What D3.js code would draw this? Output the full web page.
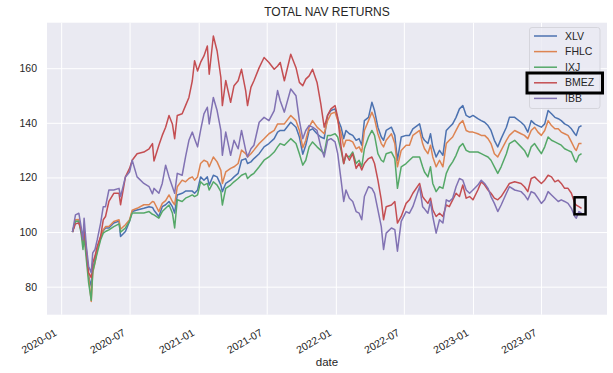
<html lang = "en">
  <head>
    <meta charset = "utf-8">
    <title>Total NAV returns</title>
    <script src="https://d3js.org/d3.v7.min.js"></script>

    <style>
      body { margin: 0; background: #fff; }
      text { font-family: "Liberation Sans", Arial, sans-serif; fill: #262626; }
      .tick text { font-size: 10.5px; }
      .label { font-size: 11.5px; }
      .title { font-size: 12px; }
      .grid line { stroke: #fff; stroke-width: 1; }
    </style>
  </head>

  <body>
    <script type = "text/javascript">

    // dates (roughly every 1-2 weeks plus the peaks/dips)
    var dates = ["2020-01-31","2020-02-08","2020-02-17","2020-02-23","2020-02-28","2020-03-02","2020-03-08","2020-03-14","2020-03-21","2020-03-25",
      "2020-03-31","2020-04-06","2020-04-15","2020-04-22","2020-04-28","2020-05-07","2020-05-20","2020-06-03","2020-06-07","2020-06-20",
      "2020-07-01","2020-07-08","2020-07-21","2020-08-08","2020-08-22","2020-08-31","2020-09-04","2020-09-17","2020-09-26","2020-10-05",
      "2020-10-14","2020-10-23","2020-10-29","2020-11-05","2020-11-18","2020-11-27","2020-12-06","2020-12-15","2020-12-21","2020-12-29",
      "2021-01-06","2021-01-15","2021-01-24","2021-01-29","2021-02-09","2021-02-19","2021-03-01","2021-03-05","2021-03-14","2021-03-27",
      "2021-04-05","2021-04-16","2021-04-25","2021-05-06","2021-05-11","2021-05-20","2021-05-28","2021-06-11","2021-06-24","2021-07-07",
      "2021-07-21","2021-07-30","2021-08-06","2021-08-17","2021-09-03","2021-09-17","2021-09-26","2021-10-05","2021-10-13","2021-10-22",
      "2021-10-31","2021-11-12","2021-11-22","2021-12-01","2021-12-10","2021-12-19","2021-12-30","2022-01-06","2022-01-15","2022-01-22",
      "2022-01-28","2022-02-06","2022-02-15","2022-02-24","2022-03-04","2022-03-11","2022-03-18","2022-03-29","2022-04-07","2022-04-14",
      "2022-04-23","2022-05-02","2022-05-08","2022-05-15","2022-05-29","2022-06-07","2022-06-14","2022-06-24","2022-07-07","2022-07-16",
      "2022-07-25","2022-08-12","2022-08-20","2022-08-25","2022-09-03","2022-09-10","2022-09-16","2022-09-25","2022-10-04","2022-10-13",
      "2022-10-22","2022-10-30","2022-11-08","2022-11-17","2022-11-26","2022-12-05","2022-12-14","2022-12-23","2023-01-01","2023-01-14",
      "2023-01-23","2023-02-01","2023-02-10","2023-02-18","2023-02-27","2023-03-08","2023-03-17","2023-03-31","2023-04-08","2023-04-22",
      "2023-05-09","2023-05-18","2023-05-27","2023-06-05","2023-06-14","2023-06-23","2023-07-02","2023-07-11","2023-07-20","2023-07-29",
      "2023-08-07","2023-08-16","2023-08-24","2023-09-02","2023-09-11","2023-09-20","2023-09-29","2023-10-03","2023-10-10","2023-10-17"];

    var xlv = [100,103.9,104,100.3,96.3,99.6,92.4,83.9,80.2,86.3,
      89.9,93.6,97.8,100.5,101.5,101.5,103.3,104,98.4,100.2,
      104,107.5,108.1,108.7,109.3,109,108,105.7,109.3,110,
      111.2,109.3,107,113.6,114.2,115,115,115,114.2,115.4,
      120.2,119,120.2,117.2,120.8,120.2,117.2,114.8,117.8,119,
      120.2,121.5,126.3,126.9,125.1,125.7,126.9,128.7,131.2,132.4,
      134.2,136.6,137.2,137.2,140.2,138.4,134.8,128.5,131.8,137.2,
      137.8,136,134.8,134.2,142.7,144.5,145.1,141.5,138.4,134.2,
      137.2,136,135.4,133.6,134.2,131.8,140.8,142,147.5,144.5,
      138.4,134.8,133.6,137.2,138.4,135.4,126.3,134.8,135.4,135.4,
      137.8,139.6,134.8,133.6,132.4,136,131.2,127.5,129.9,128.1,
      137.2,138.4,139.6,142,145.1,146.3,142.7,142,142.7,141.5,
      140.8,140.2,139,137.2,133.6,131.2,134.2,138.4,142,142,
      140.2,139,136.6,140.8,139.6,139,138.4,139.6,144.5,143.3,
      142,141.5,140.8,139.6,139,137.8,136,135.4,138.4,139];

    var fhlc = [100,104.5,104.6,100.8,96.6,99.6,92.4,83.9,74.6,85.1,
      88.7,93.6,98.4,100.8,102,102,103.9,104.5,101,102.7,
      104.5,108,108.7,110,110,111.2,111,107.5,110.5,111.5,
      113.6,111.2,110,116.6,119,118.4,119.6,120.2,119,120.2,
      125.1,126.3,125.7,123.9,127.5,125.7,122.6,117.8,122,123.3,
      123.9,125.1,130,128.7,127.5,128.7,130,132.4,134.2,136,
      137.2,139.6,139.6,139.6,142.7,140.8,137.2,130.9,133.6,138.4,
      140.8,138.4,137.2,136,140.8,143.3,143.9,140.8,136,131.2,
      133.6,133.6,133,130.5,131.2,129.3,137.2,140.8,143.9,141.5,
      136,132.4,131.2,133.6,136,132.4,123.9,129.9,131.8,131.8,
      135.4,137.2,132.4,130.5,128.7,131.8,127.5,123.9,126.3,123.9,
      132.4,133.6,134.8,137.2,139.6,140.8,137.2,136.6,136.6,136,
      135.4,135.4,134.2,132.4,128.7,127.5,129.9,133.6,135.4,137.2,
      136,135.4,134.2,137.2,138.4,136.6,135.4,137.2,140.8,139,
      137.8,137.8,136.6,136,135.4,133,130.5,129.9,132.4,132.4];

    var ixj = [100,104,104,99.6,93.6,98.4,89.9,81.5,75,85.5,
      89,92.4,97.2,99.6,100.2,100.8,102,103,100,101.5,
      104,107,107,107,107.5,106.5,106.3,105.1,107.5,108.7,
      109.9,107,101.5,111.8,111.2,112.4,113,113.6,113,113.6,
      118.4,117.2,117.8,115.4,118.4,117.2,114.8,109.9,116,117.2,
      118.4,119.6,120.8,121.5,119.6,120.8,121.5,123.9,126.3,127.5,
      129.3,131.2,132.4,131.8,134.2,132.4,128.7,124.5,126.3,131.2,
      133,131.2,129.9,128.7,135.4,135.4,136,134.8,129.9,125.1,
      128.1,127.5,129.3,125.1,126.3,123.9,130.5,134.8,137.2,135.4,
      128.7,126.3,125.7,128.7,129.3,126.9,116,123.9,125.1,126.3,
      127.5,127.5,123.9,122,120.2,123.9,117.8,114.8,116.6,116,
      121.5,123.9,125.7,128.1,131.2,132.4,129.9,129.3,129.3,129.3,
      128.7,128.1,127.5,126.3,123.9,121.5,123.9,128.7,132.4,133.6,
      131.2,129.9,127.5,131.2,132.4,130.5,128.7,131.2,134.8,133.6,
      133,132.4,131.8,130.5,129.9,129.3,126.3,125.7,128.1,128.7];

    var bmez = [100,103,103.3,100.8,97.2,100.8,93.6,85.1,83.3,88.7,
      91.2,94.8,98.4,104.5,105.7,111.2,114.2,114.2,110,120.2,
      123.3,126.3,128.7,129.3,130.5,132.4,126,131.8,135.4,138.4,
      142.7,139.6,134.2,142.7,143.3,146.3,149.3,155.4,162.7,159,
      162.1,164.5,168.1,157.8,171.8,166.3,156.6,146.3,155.5,147.5,
      153.6,155.4,159.6,151.8,146.3,153,155.4,160.2,163.9,162.1,
      159.6,160.8,162.1,155.4,165.1,160.2,154.8,153.6,156,157.2,
      159.6,154.8,146.9,138.4,142.7,145.1,146.3,142,131.2,125.1,
      128.7,126.3,128.7,123.3,125.1,122.7,125.1,126.9,127.5,125.1,
      119,111.8,104.5,109.3,109.9,111.2,103.3,105.7,110.5,111.8,
      114.2,117.8,113,112,110.5,112.4,108.1,105.7,106.9,105.7,
      109.9,109.3,111.8,114.2,113,117.2,112.4,113,111.8,115.4,
      118.4,117.2,115.4,114.2,112.4,111.8,113,116,117.8,118.4,
      117.8,116.6,114.8,119.6,120.2,119,117.8,119,120.8,120.2,
      118.4,119,117.8,116,116,114.2,110.5,109.9,109.3,108.7];

    var ibb = [100,106.3,106.9,102,97.2,105.1,94.8,87.5,85.1,92.4,
      93.6,97.2,103.3,109.3,109.3,115.4,115.4,116,113,120.2,
      122,126.3,120.2,117.8,116.6,114,116,114.2,117.8,124.5,
      120.2,116.6,114.2,121.5,120.8,127.5,133.6,136.6,134.2,131.2,
      137.2,143.3,145.7,139.6,149.3,144.5,137.2,128.1,136.6,128.1,
      133.6,130.5,137.2,130,127.5,130.5,131.8,140.2,142,140.8,
      144.5,151.8,148.1,143.9,152.4,149.9,140.8,134.2,137.2,139,
      138.4,137.2,131.2,127.5,133.6,134.2,133,128.7,119,111.2,
      115.4,112.4,111.2,107.5,106.9,104.5,113,116.6,116,114.2,
      108.1,102,93.6,99.6,101.5,100.9,93,103.9,107.5,106.9,
      109.3,116.6,109.3,108.5,106.9,111.2,105.7,99.6,104.5,103.3,
      111.8,111.2,112.4,116.6,119.6,119,115.4,114.2,115.4,117.2,
      119,117.8,116,113,110.5,107.5,109.9,114.2,116.6,115.4,
      114.8,113.6,111.8,114.8,114.2,112.4,110.5,111.8,114.8,113.6,
      112.4,111.2,111.8,111.2,110.5,108.7,105.7,105.1,107.5,106.9];

    var seriesNames = ["XLV", "FHLC", "IXJ", "BMEZ", "IBB"];
    var seriesValues = [xlv, fhlc, ixj, bmez, ibb];
    var colors = ["#4C72B0", "#DD8452", "#55A868", "#C44E52", "#8172B3"];
    var yTicks = [80, 100, 120, 140, 160];
    var xTicks = ["2020-01-01","2020-07-01","2021-01-01","2021-07-01","2022-01-01","2022-07-01","2023-01-01","2023-07-01"];

    var w = 613, h = 373;
    // plot box (note: "top" is a reserved window prop, so prefix these)
    var plotL = 47, plotR = 607, plotT = 22.7, plotB = 314.7;

    var parse = d3.timeParse("%Y-%m-%d");
    var formatX = d3.timeFormat("%Y-%m");
    var dateObjs = dates.map(parse);

    var series = seriesNames.map(function(name, i) {
      return { name: name, color: colors[i],
        values: seriesValues[i].map(function(v, j) { return { date: dateObjs[j], value: v }; }) };
    });

    // matplotlib style 5% margins on each side
    var xExt = d3.extent(dateObjs);
    var xPad = (xExt[1] - xExt[0]) * 0.05;
    var xScale = d3.scaleTime()
      .domain([new Date(+xExt[0] - xPad), new Date(+xExt[1] + xPad)])
      .range([plotL, plotR]);

    var allVals = d3.merge(seriesValues);
    var yMin = d3.min(allVals), yMax = d3.max(allVals);
    var yPad = (yMax - yMin) * 0.05;
    var yScale = d3.scaleLinear()
      .domain([yMin - yPad, yMax + yPad])
      .range([plotB, plotT]);

    var svg = d3.select("body")
      .append("svg")
      .attr("width", w)
      .attr("height", h);

    // plot background
    svg.append("rect")
      .attr("x", plotL).attr("y", plotT)
      .attr("width", plotR - plotL).attr("height", plotB - plotT)
      .attr("fill", "#EAEAF2");

    // grid + axes (no tick marks, seaborn darkgrid)
    var xAxis = d3.axisBottom(xScale)
      .tickValues(xTicks.map(parse))
      .tickFormat(formatX)
      .tickSize(-(plotB - plotT))
      .tickPadding(8);

    var yAxis = d3.axisLeft(yScale)
      .tickValues(yTicks)
      .tickSize(-(plotR - plotL))
      .tickPadding(10);

    var gx = svg.append("g")
      .attr("class", "grid")
      .attr("transform", "translate(0," + plotB + ")")
      .call(xAxis);
    gx.select(".domain").remove();
    gx.selectAll(".tick text")
      .attr("y", 0).attr("dy", 0)
      .style("text-anchor", "end")
      .attr("transform", "translate(-4,20) rotate(-30)");

    var gy = svg.append("g")
      .attr("class", "grid")
      .attr("transform", "translate(" + plotL + ",0)")
      .call(yAxis);
    gy.select(".domain").remove();

    // lines
    var line = d3.line()
      .x(function(d) { return xScale(d.date); })
      .y(function(d) { return yScale(d.value); });

    svg.append("g")
      .selectAll("path")
      .data(series)
      .enter()
      .append("path")
      .attr("d", function(d) { return line(d.values); })
      .attr("fill", "none")
      .attr("stroke", function(d) { return d.color; })
      .attr("stroke-width", 1.5)
      .attr("stroke-linejoin", "round");

    // title and x label
    svg.append("text")
      .attr("class", "title")
      .attr("x", (plotL + plotR) / 2)
      .attr("y", 16)
      .style("text-anchor", "middle")
      .text("TOTAL NAV RETURNS");

    svg.append("text")
      .attr("class", "label")
      .attr("x", (plotL + plotR) / 2)
      .attr("y", 366)
      .style("text-anchor", "middle")
      .text("date");

    // legend
    var legend = svg.append("g");
    legend.append("rect")
      .attr("x", 529.5).attr("y", 27.5)
      .attr("width", 70.5).attr("height", 81)
      .attr("rx", 2.5)
      .attr("fill", "#EAEAF2")
      .attr("fill-opacity", 0.8)
      .attr("stroke", "#d5d5dc");

    var items = legend.selectAll(".item")
      .data(series)
      .enter()
      .append("g")
      .attr("transform", function(d, i) { return "translate(0," + (36 + i * 15.6) + ")"; });
    items.append("line")
      .attr("x1", 534).attr("x2", 557)
      .attr("stroke", function(d) { return d.color; })
      .attr("stroke-width", 1.5);
    items.append("text")
      .attr("x", 565)
      .attr("dy", "0.35em")
      .style("font-size", "10.5px")
      .text(function(d) { return d.name; });

    // black highlight boxes (legend entry + end of BMEZ)
    svg.append("rect")
      .attr("x", 527).attr("y", 73)
      .attr("width", 75.5).attr("height", 20)
      .attr("fill", "none")
      .attr("stroke", "#000")
      .attr("stroke-width", 3);

    var lastB = series[3].values[series[3].values.length - 1];
    svg.append("rect")
      .attr("x", xScale(lastB.date) - 7)
      .attr("y", yScale(lastB.value) - 11)
      .attr("width", 11).attr("height", 17)
      .attr("fill", "none")
      .attr("stroke", "#000")
      .attr("stroke-width", 2.5);

    </script>
  </body>
</html>
